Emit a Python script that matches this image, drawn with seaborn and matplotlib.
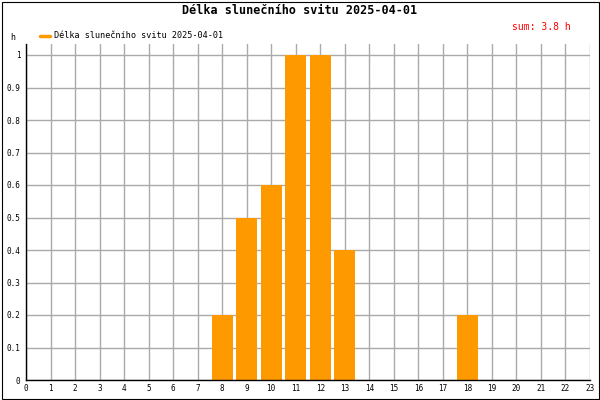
import matplotlib
matplotlib.use("Agg")
import matplotlib.pyplot as plt
from matplotlib.lines import Line2D
from matplotlib.patches import Rectangle
import seaborn as sns
import pandas as pd

title = "Délka slunečního svitu 2025-04-01"
series_name = "Délka slunečního svitu 2025-04-01"
sum_text = "sum: 3.8 h"
y_unit = "h"
hours = list(range(24))
sunshine = [0, 0, 0, 0, 0, 0, 0, 0, 0.2, 0.5, 0.6, 1.0, 1.0, 0.4,
            0, 0, 0, 0, 0.2, 0, 0, 0, 0, 0]
y_ticks = [0, 0.1, 0.2, 0.3, 0.4, 0.5, 0.6, 0.7, 0.8, 0.9, 1]
y_tick_labels = ["0", "0.1", "0.2", "0.3", "0.4", "0.5", "0.6", "0.7", "0.8", "0.9", "1"]

sns.set_style("white")
plt.rcParams['font.family'] = ['DejaVu Sans Mono']
plt.rcParams['text.color'] = 'black'
plt.rcParams['xtick.color'] = 'black'
plt.rcParams['ytick.color'] = 'black'

bar_color = "#ff9900"
df = pd.DataFrame({"hour": hours, "value": sunshine})

fig = plt.figure(figsize=(6, 4), dpi=100)
ax = fig.add_axes([26 / 600, 20 / 400, 564 / 600, 336 / 400])

sns.barplot(data=df, x="hour", y="value", order=hours, color=bar_color,
            saturation=1, width=0.86, linewidth=0, ax=ax, zorder=3)

ax.set_xlim(0, 23)
ax.set_ylim(0, 336 / 325)
ax.set_xticks(hours)
ax.set_xticklabels([str(h) for h in hours], fontsize=5.5)
ax.set_yticks(y_ticks)
ax.set_yticklabels(y_tick_labels, fontsize=5.5)
ax.set_xlabel("")
ax.set_ylabel("")
ax.grid(True, color="#aaaaaa", linewidth=1)
ax.set_axisbelow(True)
for s in ["top", "right"]:
    ax.spines[s].set_visible(False)
for s in ["left", "bottom"]:
    ax.spines[s].set_color("black")
    ax.spines[s].set_linewidth(1)
    ax.spines[s].set_zorder(4)
ax.tick_params(axis="y", direction="out", length=3, width=1, pad=1, colors="black")
ax.tick_params(axis="x", direction="out", length=2, width=1, pad=1, colors="black")

fig.text(0.5, 1 - 11 / 400, title, ha="center", va="center",
         fontsize=8.5, fontweight="bold", color="black")
fig.text(571 / 600, 1 - 27 / 400, sum_text, ha="right", va="center",
         fontsize=7, color="red")
fig.text(13 / 600, 1 - 38 / 400, y_unit, ha="center", va="center",
         fontsize=6, color="black")

handle = Line2D([0], [0], color=bar_color, linewidth=2.5)
leg = fig.legend([handle], [series_name], loc="center left",
                 bbox_to_anchor=(40 / 600, 1 - 36 / 400), frameon=False,
                 fontsize=6.1, handlelength=1.2, handletextpad=0.5,
                 borderaxespad=0, borderpad=0)
for t in leg.get_texts():
    t.set_color("black")

fig.patches.append(Rectangle((1.5 / 600, 1.5 / 400), 597 / 600, 397 / 400,
                             transform=fig.transFigure, fill=False,
                             edgecolor="black", linewidth=0.8))

fig.savefig("out.png", dpi=100)
